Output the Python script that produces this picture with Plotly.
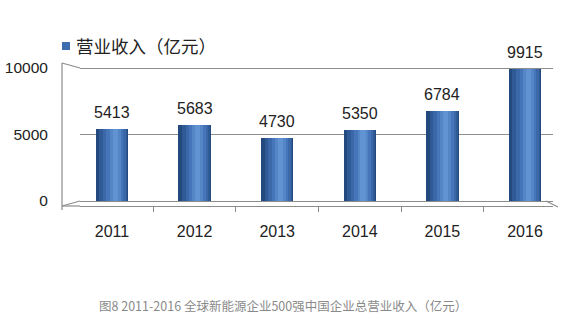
import plotly.graph_objects as go

years = ["2011", "2012", "2013", "2014", "2015", "2016"]
revenue = [5413, 5683, 4730, 5350, 6784, 9915]
series_name = "营业收入（亿元）"
y_ticks = [0, 5000, 10000]
y_tick_text = ["0", "5000", "10000"]
caption = "图8 2011-2016 全球新能源企业500强中国企业总营业收入（亿元）"

W = 0.39
layers = [  # width fraction, shift fraction, color
    (1.00, 0.00, "#24497f"),
    (0.86, 0.04, "#2f5a96"),
    (0.70, 0.07, "#3a68a8"),
    (0.52, 0.09, "#4676b9"),
    (0.34, 0.10, "#5385c7"),
    (0.16, 0.10, "#6193d2"),
]

fig = go.Figure()
for i, (wf, sf, col) in enumerate(layers):
    w = W * wf
    fig.add_trace(go.Bar(
        x=years, y=revenue, width=w, offset=-W / 2 + (W - w) / 2 + sf * W * (1 if i else 0),
        marker=dict(color=col, line=dict(width=0)),
        name=series_name, showlegend=False,
    ))

for i, v in enumerate(revenue):
    fig.add_annotation(x=i, y=v, text=str(v), showarrow=False, yanchor="bottom", yshift=6,
                       font=dict(size=16, color="#222", family="Liberation Sans, Noto Sans"))

# plot-area geometry in paper units (height 140 px, width 473 px)
H = 140.0
Wp = 473.0
def py(px):  # pixel y (from top of page) to paper y
    return (206 - px) / H
def px_(p):  # pixel x to paper x
    return (p - 80) / Wp

# legend (square + text)
fig.add_shape(type="rect", xref="paper", yref="paper", x0=px_(62), x1=px_(70), y0=py(50), y1=py(42),
              fillcolor="#3f6cae", line=dict(width=0))
fig.add_annotation(xref="paper", yref="paper", x=px_(74), y=py(45), xanchor="left", yanchor="middle",
                   text=series_name, showarrow=False,
                   font=dict(size=17.5, color="#222", family="Noto Sans CJK SC"))

fig.add_annotation(xref="paper", yref="paper", x=px_(283), y=py(305), yanchor="middle", text=caption,
                   showarrow=False, font=dict(size=12.5, color="#8a8a8a", family="Noto Sans CJK SC"))

grey = "#8c8c8c"
lw = 1.2
segs = [
    ((62, 63), (62, 210)),    # side wall edge
    ((62, 63), (80, 68)),     # top slant
    ((62, 206), (80, 201)),   # floor slant
    ((62, 206), (80, 206)),   # front floor edge
    ((546, 201), (558, 207)), # right floor slant
]
for (x0, y0), (x1, y1) in segs:
    fig.add_shape(type="line", xref="paper", yref="paper", x0=px_(x0), y0=py(y0), x1=px_(x1), y1=py(y1),
                  line=dict(color=grey, width=lw))

fig.update_layout(
    width=567, height=328,
    margin=dict(l=80, r=14, t=66, b=122, autoexpand=False),
    barmode="overlay", bargap=0,
    plot_bgcolor="white", paper_bgcolor="white",
    font=dict(family="Liberation Sans, Noto Sans CJK SC", color="#222"),
    showlegend=False,
    xaxis=dict(type="category", range=[-0.387, 5.339], showgrid=False, automargin=False,
               showline=True, linecolor=grey, linewidth=lw,
               ticks="outside", tickson="boundaries", ticklen=5, tickcolor=grey,
               tickfont=dict(size=16), ticklabelstandoff=11),
    yaxis=dict(range=[-376, 10150], tickvals=y_ticks, ticktext=y_tick_text, automargin=False,
               showgrid=True, gridcolor=grey, gridwidth=lw,
               zeroline=False, showline=False, tickfont=dict(size=15.5),
               ticks="outside", ticklen=28, tickcolor="rgba(0,0,0,0)"),
)

fig.write_html("out.html")
